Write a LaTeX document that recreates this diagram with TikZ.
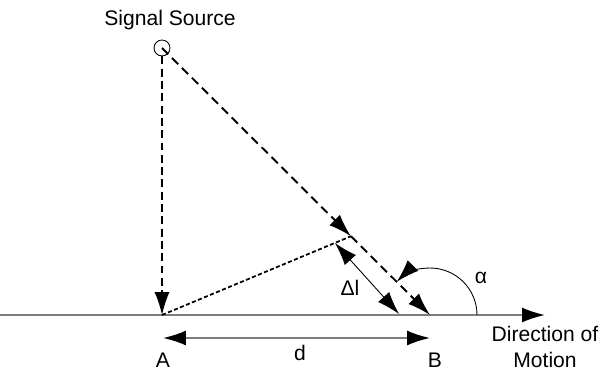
\documentclass[tikz,border=0pt]{standalone}
\usepackage{fontspec}
\setmainfont{Liberation Sans}
\usetikzlibrary{arrows.meta,calc}
\definecolor{AxisGray}{RGB}{125,125,125}

\begin{document}
\begin{tikzpicture}[x=0.02cm,y=0.02cm,>={Latex[length=13pt,width=8.5pt]},font=\fontsize{12}{14.7}\selectfont,
  ray/.style={->,line width=1.1pt,dash pattern=on 5pt off 3pt},
  gtip/.tip={Latex[length=13pt,width=8.5pt,color=black]},
  lbl/.style={anchor=base,inner sep=0pt}]
\useasboundingbox (0,0) rectangle (601,372);
\node[draw,circle,inner sep=0pt,minimum size=0.32cm,line width=0.5pt] (src) at (162,324) {};\node[lbl] (srclab) at (170,346) {Signal Source};
\coordinate (O) at (0,57);\coordinate (E) at (545,57);\coordinate (A) at (162,57);\coordinate (B) at (430,57);
\coordinate (P) at ($(src)!0.705!(B)$);\coordinate (dlA) at (335,129);\coordinate (dlB) at (399,58);
\coordinate (dA) at (163,34);\coordinate (dB) at (430,34);
% axis and baseline distance
\draw[-gtip,AxisGray,line width=1pt] (O) -- (E);
\draw[gtip-gtip,AxisGray,line width=1pt] (dA) -- (dB);
% signal paths
\draw[->,line width=0.7pt,dash pattern=on 4.5pt off 2.5pt] (src.south) -- (A);
\draw[ray] (src.center) -- (P);\draw[ray] (P) -- (B);
\draw[line width=1pt,dash pattern=on 2.3pt off 1.4pt] (A) -- (P);
\draw[<->,line width=0.5pt] (dlA) -- (dlB);
\draw[->,line width=0.5pt] ($(B)+(47,0)$) arc[start angle=0,end angle=135,radius=47];
% labels
\node[lbl] (lA) at (163,5) {A};\node[lbl] (lB) at (435,5) {B};\node[lbl] (ld) at (300,12) {d};
\node[lbl] (ldl) at (350,77) {Δl};\node[lbl] (lal) at (481,89) {α};
\node[lbl,align=center] (ldir) at (545,5) {Direction of\\Motion};
\end{tikzpicture}
\end{document}
